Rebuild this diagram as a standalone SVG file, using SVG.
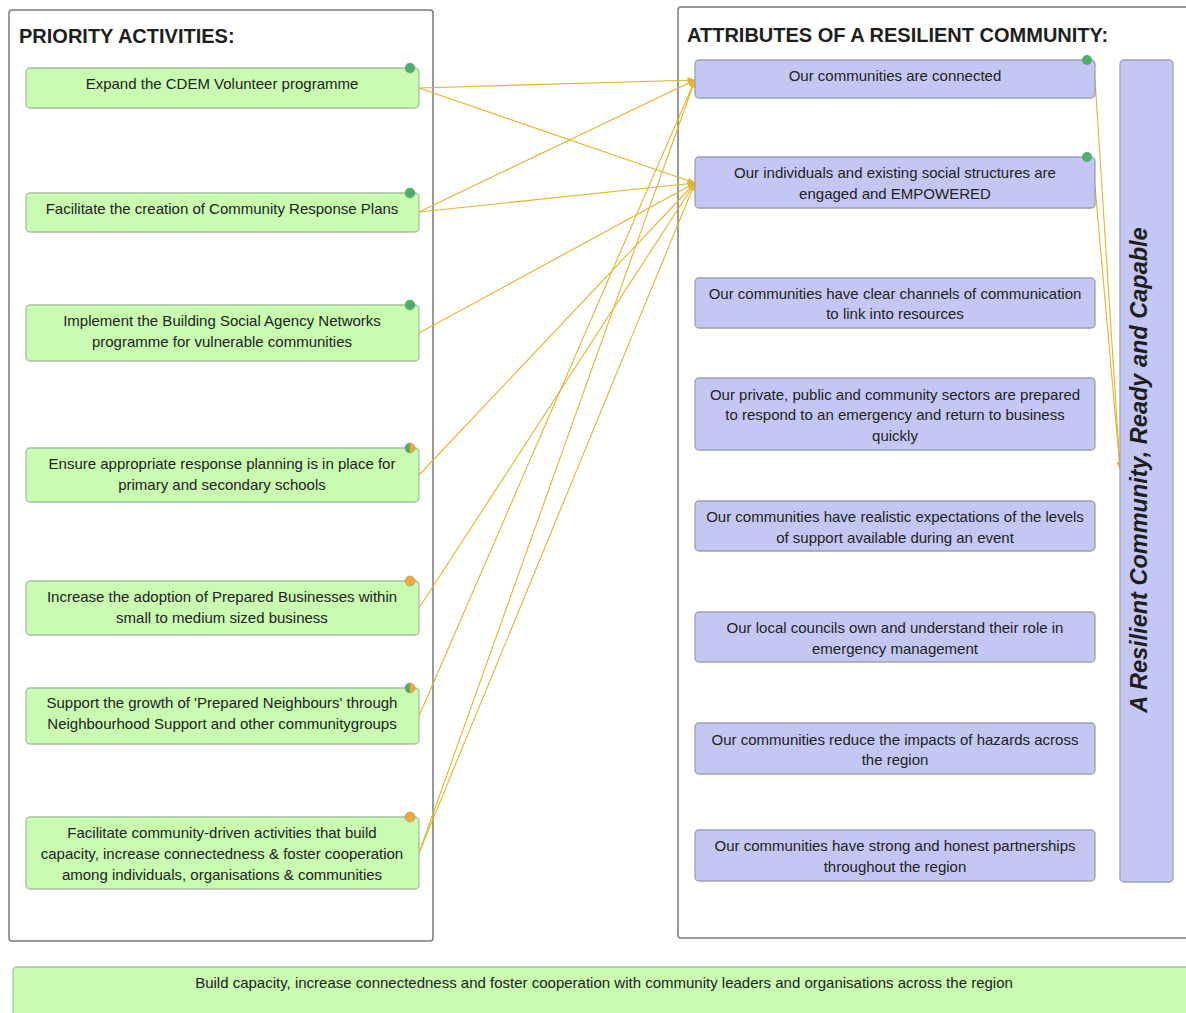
<svg xmlns="http://www.w3.org/2000/svg" width="1186" height="1013" viewBox="0 0 1186 1013">
  <style>
    .frame { fill: #ffffff; stroke: #7a7a7a; stroke-width: 1.5; }
    .title { font-family: "Liberation Sans", Arial, sans-serif; font-size: 20px; font-weight: bold; fill: #1e1e1e; }
    .act { fill: #c9fcb1; stroke: #a8bfa2; stroke-width: 1.3; }
    .attr { fill: #c4c7f3; stroke: #9d9fb4; stroke-width: 1.3; }
    .lbl { font-family: "Liberation Sans", Arial, sans-serif; font-size: 15px; fill: #222222; text-anchor: middle; }
    .vlbl { font-family: "Liberation Sans", Arial, sans-serif; font-size: 23.5px; font-weight: bold; font-style: italic; fill: #1e1e1e; text-anchor: middle; }
    .link { fill: none; stroke: #e5b32c; stroke-width: 1.1; marker-end: url(#tip); }
    .ok { fill: #4fae6c; }
    .warn { fill: #f3a83a; }
    .dot-ring { fill: none; stroke: #8a9a86; stroke-width: 0.6; }
  </style>
  <defs>
    <marker id="tip" markerUnits="userSpaceOnUse" markerWidth="8" markerHeight="8" viewBox="0 0 8 8" refX="7.5" refY="4" orient="auto">
      <path d="M0,1 L8,4 L0,7 Z" fill="#e5b32c"/>
    </marker>
  </defs>

  <!-- containers -->
  <g id="priority-activities">
    <rect class="frame" x="9" y="10" width="424" height="931" rx="3"/>
    <text class="title" x="19" y="43">PRIORITY ACTIVITIES:</text>
  </g>
  <g id="attributes">
    <rect class="frame" x="678" y="7" width="540" height="931" rx="3"/>
    <text class="title" x="687" y="42">ATTRIBUTES OF A RESILIENT COMMUNITY:</text>
  </g>

  <!-- connectors -->
  <g id="connectors">
    <line class="link" x1="419" y1="88" x2="695" y2="80"/>
    <line class="link" x1="419" y1="88" x2="695" y2="183"/>
    <line class="link" x1="419" y1="212" x2="695" y2="80"/>
    <line class="link" x1="419" y1="212" x2="695" y2="183"/>
    <line class="link" x1="419" y1="333" x2="695" y2="183"/>
    <line class="link" x1="419" y1="475" x2="695" y2="183"/>
    <line class="link" x1="419" y1="608" x2="695" y2="183"/>
    <line class="link" x1="419" y1="716" x2="695" y2="80"/>
    <line class="link" x1="419" y1="853" x2="695" y2="80"/>
    <line class="link" x1="419" y1="853" x2="695" y2="183"/>
    <line class="link" x1="1095" y1="79" x2="1120" y2="469"/>
    <line class="link" x1="1095" y1="186" x2="1120" y2="469"/>
  </g>

  <!-- priority activity nodes -->
  <g id="act-volunteer">
    <rect class="act" x="26" y="68" width="393" height="40" rx="4"/>
    <text class="lbl" x="222" y="89">Expand the CDEM Volunteer programme</text>
    <circle class="ok" cx="410" cy="68" r="5"/>
    <circle class="dot-ring" cx="410" cy="68" r="5"/>
  </g>
  <g id="act-response-plans">
    <rect class="act" x="26" y="193" width="393" height="39" rx="4"/>
    <text class="lbl" x="222" y="214">Facilitate the creation of Community Response Plans</text>
    <circle class="ok" cx="410" cy="193" r="5"/>
    <circle class="dot-ring" cx="410" cy="193" r="5"/>
  </g>
  <g id="act-social-agency">
    <rect class="act" x="26" y="305" width="393" height="56" rx="4"/>
    <text class="lbl" x="222" y="326">Implement the Building Social Agency Networks</text>
    <text class="lbl" x="222" y="347">programme for vulnerable communities</text>
    <circle class="ok" cx="410" cy="305" r="5"/>
    <circle class="dot-ring" cx="410" cy="305" r="5"/>
  </g>
  <g id="act-schools">
    <rect class="act" x="26" y="448" width="393" height="54" rx="4"/>
    <text class="lbl" x="222" y="469">Ensure appropriate response planning is in place for</text>
    <text class="lbl" x="222" y="490">primary and secondary schools</text>
    <circle class="warn" cx="410" cy="448" r="5"/>
    <path class="ok" d="M410,443 A5,5 0 0 0 410,453 Z"/>
    <circle class="dot-ring" cx="410" cy="448" r="5"/>
  </g>
  <g id="act-businesses">
    <rect class="act" x="26" y="581" width="393" height="54" rx="4"/>
    <text class="lbl" x="222" y="602">Increase the adoption of Prepared Businesses within</text>
    <text class="lbl" x="222" y="623">small to medium sized business</text>
    <circle class="warn" cx="410" cy="581" r="5"/>
    <circle class="dot-ring" cx="410" cy="581" r="5"/>
  </g>
  <g id="act-neighbours">
    <rect class="act" x="26" y="688" width="393" height="56" rx="4"/>
    <text class="lbl" x="222" y="708">Support the growth of 'Prepared Neighbours' through</text>
    <text class="lbl" x="222" y="729">Neighbourhood Support and other communitygroups</text>
    <circle class="warn" cx="410" cy="688" r="5"/>
    <path class="ok" d="M410,683 A5,5 0 0 0 410,693 Z"/>
    <circle class="dot-ring" cx="410" cy="688" r="5"/>
  </g>
  <g id="act-community-driven">
    <rect class="act" x="26" y="817" width="393" height="72" rx="4"/>
    <text class="lbl" x="222" y="838">Facilitate community-driven activities that build</text>
    <text class="lbl" x="222" y="859">capacity, increase connectedness &amp; foster cooperation</text>
    <text class="lbl" x="222" y="880">among individuals, organisations &amp; communities</text>
    <circle class="warn" cx="410" cy="817" r="5"/>
    <circle class="dot-ring" cx="410" cy="817" r="5"/>
  </g>

  <!-- attribute nodes -->
  <g id="attr-connected">
    <rect class="attr" x="695" y="60" width="400" height="38" rx="4"/>
    <text class="lbl" x="895" y="81">Our communities are connected</text>
    <circle class="ok" cx="1087" cy="60" r="5"/>
  </g>
  <g id="attr-empowered">
    <rect class="attr" x="695" y="157" width="400" height="51" rx="4"/>
    <text class="lbl" x="895" y="178">Our individuals and existing social structures are</text>
    <text class="lbl" x="895" y="199">engaged and EMPOWERED</text>
    <circle class="ok" cx="1087" cy="157" r="5"/>
  </g>
  <g id="attr-channels">
    <rect class="attr" x="695" y="278" width="400" height="50" rx="4"/>
    <text class="lbl" x="895" y="299">Our communities have clear channels of communication</text>
    <text class="lbl" x="895" y="319">to link into resources</text>
  </g>
  <g id="attr-sectors">
    <rect class="attr" x="695" y="378" width="400" height="72" rx="4"/>
    <text class="lbl" x="895" y="400">Our private, public and community sectors are prepared</text>
    <text class="lbl" x="895" y="420">to respond to an emergency and return to business</text>
    <text class="lbl" x="895" y="441">quickly</text>
  </g>
  <g id="attr-expectations">
    <rect class="attr" x="695" y="501" width="400" height="50" rx="4"/>
    <text class="lbl" x="895" y="522">Our communities have realistic expectations of the levels</text>
    <text class="lbl" x="895" y="543">of support available during an event</text>
  </g>
  <g id="attr-councils">
    <rect class="attr" x="695" y="612" width="400" height="50" rx="4"/>
    <text class="lbl" x="895" y="633">Our local councils own and understand their role in</text>
    <text class="lbl" x="895" y="654">emergency management</text>
  </g>
  <g id="attr-hazards">
    <rect class="attr" x="695" y="723" width="400" height="51" rx="4"/>
    <text class="lbl" x="895" y="745">Our communities reduce the impacts of hazards across</text>
    <text class="lbl" x="895" y="765">the region</text>
  </g>
  <g id="attr-partnerships">
    <rect class="attr" x="695" y="830" width="400" height="51" rx="4"/>
    <text class="lbl" x="895" y="851">Our communities have strong and honest partnerships</text>
    <text class="lbl" x="895" y="872">throughout the region</text>
  </g>

  <!-- outcome bar -->
  <g id="outcome">
    <rect class="attr" x="1120" y="60" width="53" height="822" rx="4"/>
    <text class="vlbl" transform="translate(1147,470) rotate(-90)">A Resilient Community, Ready and Capable</text>
  </g>

  <!-- overarching goal -->
  <g id="goal">
    <rect class="act" x="13" y="967" width="1200" height="60" rx="4"/>
    <text class="lbl" x="604" y="988">Build capacity, increase connectedness and foster cooperation with community leaders and organisations across the region</text>
  </g>
</svg>
